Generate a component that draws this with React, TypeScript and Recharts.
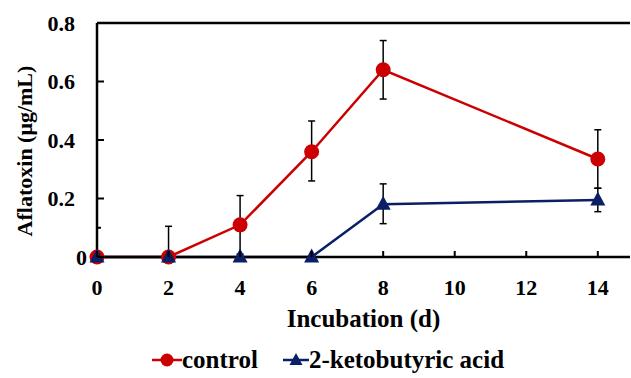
import { LineChart, Line, XAxis, YAxis, ErrorBar, Legend, ReferenceLine, Label } from 'recharts';

const days = [0, 2, 4, 6, 8, 14];
const controlMean = [0, 0, 0.11, 0.36, 0.64, 0.335];
const controlLow = [0, 0, 0.1, 0.1, 0.1, 0.1];
const controlHigh = [0, 0.105, 0.1, 0.105, 0.1, 0.1];
const ketoMean = [0, 0, 0, 0, 0.18, 0.195];
const ketoLow = [0, 0, 0, 0, 0.066, 0.04];
const ketoHigh = [0, 0, 0, 0, 0.07, 0.04];

const xTicks = [0, 2, 4, 6, 8, 10, 12, 14];
const yTicks = [0, 0.1, 0.2, 0.4, 0.6, 0.8];
const yMinorTicks = [0.1];
const seriesOrder = ['control', 'keto'];

const RED = '#cc0000';
const NAVY = '#0a1f66';
const FONT = '"Liberation Serif", "Times New Roman", serif';

const data = days.map((d, i) => ({
  day: d,
  control: controlMean[i],
  controlErr: [controlLow[i], controlHigh[i]],
  keto: ketoMean[i],
  ketoErr: [ketoLow[i], ketoHigh[i]],
}));

const textStyle = (size: number) => ({ fontFamily: FONT, fontWeight: 'bold' as const, fontSize: size });

function YTick({ x, y, payload }: any) {
  const v = payload.value;
  const minor = yMinorTicks.includes(v);
  return (
    <g>
      <line x1={x} x2={x + (minor ? 4 : 7)} y1={y} y2={y} stroke="#000" strokeWidth={2} />
      {!minor && (
        <text x={v === 0 ? x - 10 : x - 22} y={y + 7.5} textAnchor="end" style={textStyle(22)} fill="#000">
          {v}
        </text>
      )}
    </g>
  );
}

function XTick({ x, y, payload }: any) {
  return (
    <g>
      <line x1={x} x2={x} y1={y} y2={y - 6} stroke="#000" strokeWidth={2} />
      <text x={x} y={y + 38} textAnchor="middle" style={textStyle(22)} fill="#000">
        {payload.value}
      </text>
    </g>
  );
}

function CircleDot({ cx, cy, index }: any) {
  return <circle key={`c-${index}`} cx={cx} cy={cy} r={7.5} fill={RED} />;
}

function TriangleDot({ cx, cy, index }: any) {
  return (
    <path
      key={`t-${index}`}
      d={`M${cx},${cy - 8.5} L${cx + 7.5},${cy + 5.5} L${cx - 7.5},${cy + 5.5} Z`}
      fill={NAVY}
    />
  );
}

function renderLegend({ payload }: any) {
  const items = [...(payload || [])].sort(
    (a: any, b: any) => seriesOrder.indexOf(a.dataKey) - seriesOrder.indexOf(b.dataKey)
  );
  return (
    <div style={{ display: 'flex', alignItems: 'center', paddingLeft: 152, height: 30 }}>
      {items.map((entry: any) => {
        const isKeto = entry.dataKey === 'keto';
        return (
          <div key={entry.value} style={{ display: 'flex', alignItems: 'center', marginRight: 25 }}>
            <svg width={isKeto ? 26 : 30} height={20}>
              <line x1={0} x2={isKeto ? 26 : 30} y1={10} y2={10} stroke={entry.color} strokeWidth={2.5} />
              {isKeto ? (
                <path d="M13,3 L19.5,15 L6.5,15 Z" fill={NAVY} />
              ) : (
                <circle cx={15} cy={10} r={6.5} fill={RED} />
              )}
            </svg>
            <span style={{ ...textStyle(25), lineHeight: '30px', color: '#000' }}>{entry.value}</span>
          </div>
        );
      })}
    </div>
  );
}

export default function App() {
  return (
    <div style={{ position: 'absolute', left: 0, top: 0, background: '#fff', fontFamily: FONT }}>
      <LineChart width={631} height={378} data={data} margin={{ top: 23, right: 1, bottom: 0, left: 0 }}>
        <XAxis
          dataKey="day"
          type="number"
          domain={[0, 14.9]}
          ticks={xTicks}
          tick={<XTick />}
          tickSize={0}
          tickMargin={0}
          tickLine={false}
          axisLine={{ stroke: '#000', strokeWidth: 2.5 }}
          height={121}
        >
          <Label
            content={({ viewBox }: any) => (
              <text
                x={viewBox.x + viewBox.width / 2}
                y={viewBox.y + 70}
                textAnchor="middle"
                style={textStyle(25)}
                fill="#000"
              >
                Incubation (d)
              </text>
            )}
          />
        </XAxis>
        <YAxis
          type="number"
          domain={[0, 0.8]}
          ticks={yTicks}
          tick={<YTick />}
          tickSize={0}
          tickMargin={0}
          tickLine={false}
          axisLine={{ stroke: '#000', strokeWidth: 2.5 }}
          width={97}
        >
          <Label
            content={({ viewBox }: any) => {
              const cx = 32;
              const cy = viewBox.y + viewBox.height / 2 + 11;
              return (
                <text
                  x={cx}
                  y={cy}
                  transform={`rotate(-90, ${cx}, ${cy})`}
                  textAnchor="middle"
                  style={textStyle(22)}
                  fill="#000"
                >
                  Aflatoxin (μg/mL)
                </text>
              );
            }}
          />
        </YAxis>
        <ReferenceLine y={0.8} stroke="#000" strokeWidth={2.5} />
        <Legend
          verticalAlign="middle"
          align="center"
          wrapperStyle={{ top: 345, left: 0, width: 631 }}
          content={renderLegend}
        />
        <Line
          dataKey="control"
          name="control"
          stroke={RED}
          strokeWidth={2.5}
          dot={CircleDot}
          activeDot={false}
          isAnimationActive={false}
        >
          <ErrorBar dataKey="controlErr" width={3.5} stroke="#000" strokeWidth={1.5} isAnimationActive={false} />
        </Line>
        <Line
          dataKey="keto"
          name="2-ketobutyric acid"
          stroke={NAVY}
          strokeWidth={2.5}
          dot={TriangleDot}
          activeDot={false}
          isAnimationActive={false}
        >
          <ErrorBar dataKey="ketoErr" width={3.5} stroke="#000" strokeWidth={1.5} isAnimationActive={false} />
        </Line>
      </LineChart>
    </div>
  );
}
